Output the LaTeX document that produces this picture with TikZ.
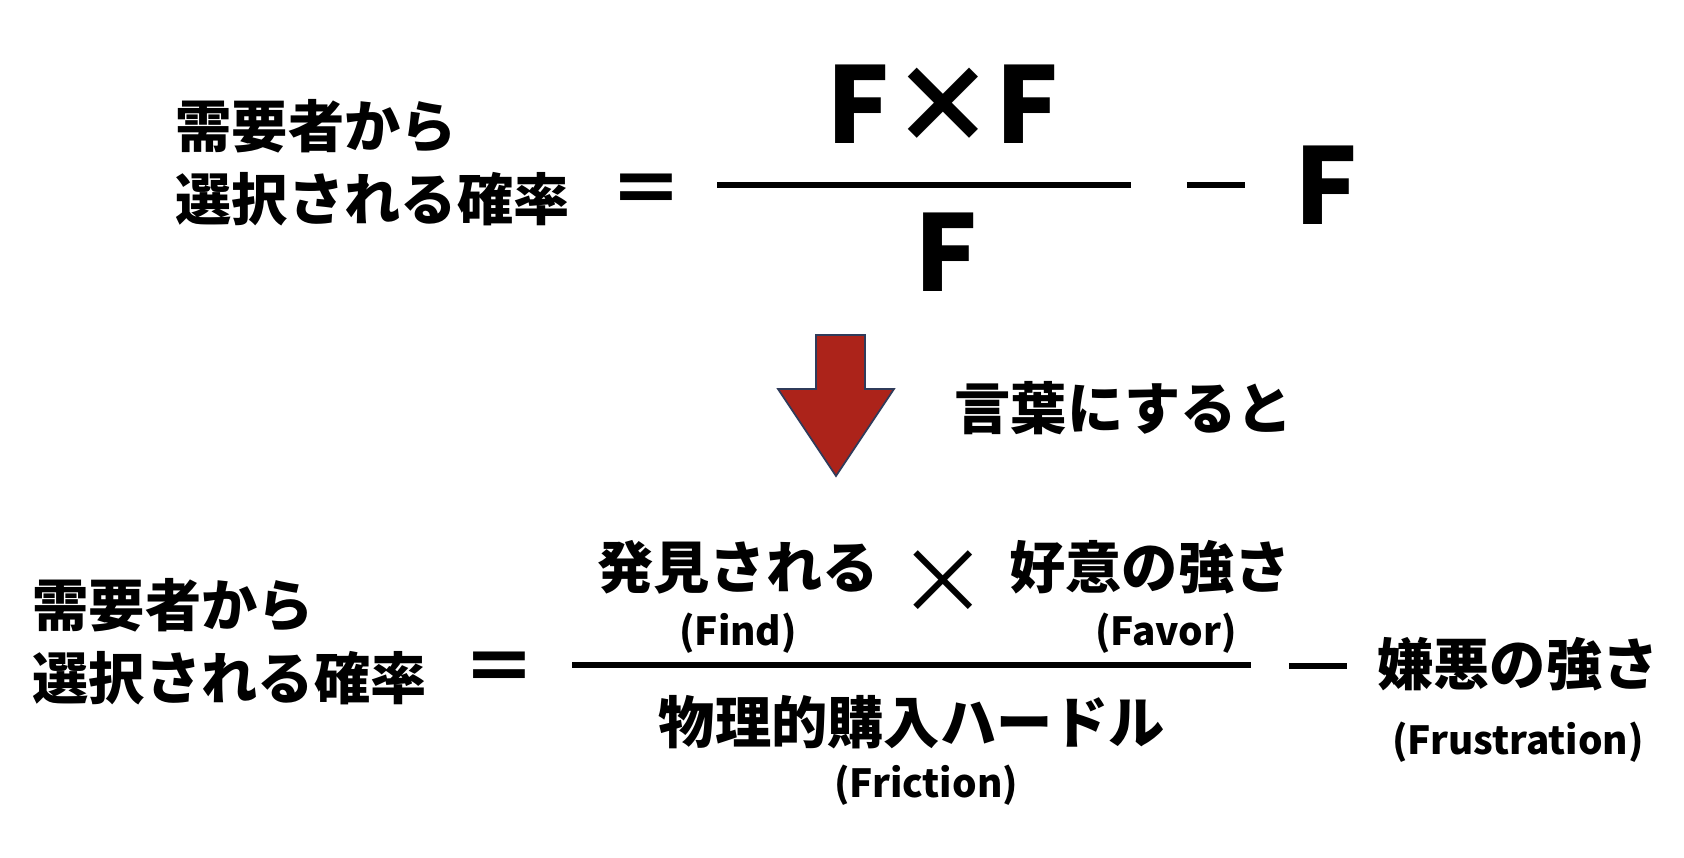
\documentclass[tikz,border=0pt]{standalone}
\usepackage{fontspec}
\setmainfont{Noto Sans CJK JP}
\usepackage{xcolor}
\usepackage{tikz}
\usetikzlibrary{positioning}

\definecolor{arrowred}{HTML}{AC231A}
\definecolor{arrowedge}{HTML}{2F3B5A}

\begin{document}
\begin{tikzpicture}[x=0.01cm, y=-0.01cm, node distance=0.1cm, >=stealth]
        \tikzset{
            label/.style={inner sep=0pt, align=left, font=\fontsize{16}{20.7}\selectfont\bfseries},
            sub/.style={inner sep=0pt, font=\fontsize{11}{13}\selectfont\bfseries},
            bigf/.style={inner sep=0pt, font=\fontsize{30}{34}\selectfont\bfseries},
            sign/.style={inner sep=0pt, font=\fontsize{21}{24}\selectfont\bfseries},
            fracline/.style={line width=1.8pt}
        }
        \useasboundingbox (0,0) rectangle (1684,858);

        % formula
        \node[label, anchor=west] (prob) at (175,163) {需要者から\\選択される確率};
        \node[sign] (eq) at (646,195) {＝};
        \node[bigf] (num) at (943,104) {F×F};
        \node[bigf] (den) at (946,252) {F};
        \draw[fracline] (717,185) -- (1131,185);
        \node[inner sep=0pt] (minus) at (1216,185) {\rule{16.5pt}{1.6pt}};
        \node[bigf] (last) at (1326,185) {F};

        % arrow
        \draw[arrowedge, fill=arrowred, line width=0.5pt]
            (816,335) -- (865,335) -- (865,389) -- (894,389) -- (836,476)
            -- (778,389) -- (816,389) -- cycle;
        \node[label, anchor=west] (words) at (954,408) {言葉にすると};

        % in words
        \node[label, anchor=west] (prob2) at (32,642) {需要者から\\選択される確率};
        \node[sign] (eq2) at (499,673) {＝};
        \node[label] (find) at (738,567) {発見される};
        \node[sub, below=0.18cm of find] (findeng) {(Find)};
        \node[inner sep=0pt, font=\fontsize{26}{30}\selectfont] (times) at (943,583) {×};
        \node[label] (favor) at (1150,567) {好意の強さ};
        \node[sub, below=0.18cm of favor, xshift=0.16cm] (favoreng) {(Favor)};
        \draw[fracline] (572,665) -- (1251,665);
        \node[label] (friction) at (912,722) {物理的購入ハードル};
        \node[sub, below=0.15cm of friction, xshift=0.14cm] (frictioneng) {(Friction)};
        \node[inner sep=0pt] (minus2) at (1318,666) {\rule{16.5pt}{1.6pt}};
        \node[label] (frust) at (1518,664) {嫌悪の強さ};
        \node[sub, below=0.3cm of frust] (frusteng) {(Frustration)};

    \end{tikzpicture}
\end{document}
